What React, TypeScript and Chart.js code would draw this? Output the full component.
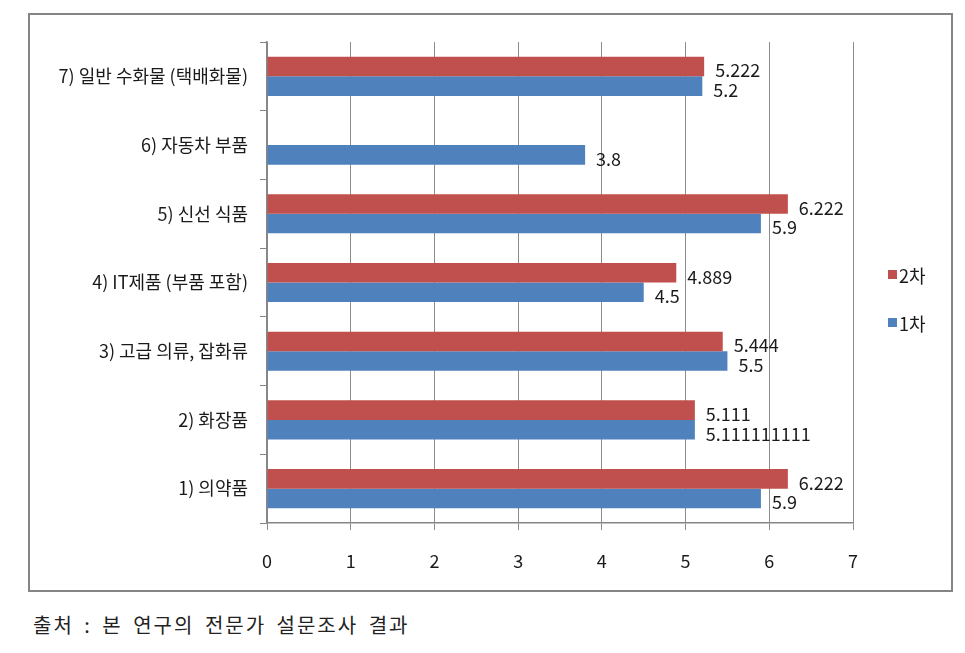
import React, { useEffect, useRef } from "react";
import { Chart, registerables } from "chart.js";

Chart.register(...registerables);

const categories = [
  "7) 일반 수화물 (택배화물)",
  "6) 자동차 부품",
  "5) 신선 식품",
  "4) IT제품 (부품 포함)",
  "3) 고급 의류, 잡화류",
  "2) 화장품",
  "1) 의약품",
];
const series2Name = "2차";
const series1Name = "1차";
const series2Values: (number | null)[] = [5.222, null, 6.222, 4.889, 5.444, 5.111, 6.222];
const series1Values: (number | null)[] = [5.2, 3.8, 5.9, 4.5, 5.5, 5.111111111, 5.9];
const xTicks = [0, 1, 2, 3, 4, 5, 6, 7];
const caption = "출처 : 본 연구의 전문가 설문조사 결과";

const RED = "#C0504D";
const BLUE = "#4F81BD";
const FONT = "'Noto Sans CJK KR', 'Noto Sans', sans-serif";

const valueLabels = {
  id: "valueLabels",
  afterDatasetsDraw(chart: any) {
    const ctx = chart.ctx;
    ctx.save();
    ctx.font = `18px ${FONT}`;
    ctx.fillStyle = "#1a1a1a";
    ctx.textAlign = "left";
    ctx.textBaseline = "middle";
    chart.data.datasets.forEach((ds: any, di: number) => {
      const meta = chart.getDatasetMeta(di);
      meta.data.forEach((el: any, i: number) => {
        const v = ds.data[i];
        if (v === null || v === undefined) return;
        ctx.fillText(String(v), el.x + 11, el.y + 4);
      });
    });
    ctx.restore();
  },
};

const customLegend = {
  id: "customLegend",
  afterDraw(chart: any) {
    const ctx = chart.ctx;
    const area = chart.chartArea;
    ctx.save();
    ctx.font = `18px ${FONT}`;
    ctx.textAlign = "left";
    ctx.textBaseline = "middle";
    const x0 = area.right + 35;
    const y0 = (area.top + area.bottom) / 2;
    const items = chart.data.datasets.map((ds: any) => ({ label: ds.label, color: ds.backgroundColor }));
    items.forEach((it: any, i: number) => {
      const cy = y0 - 8.5 + i * 48;
      ctx.fillStyle = it.color;
      ctx.fillRect(x0, cy - 4, 9, 9);
      ctx.fillStyle = "#1a1a1a";
      ctx.fillText(it.label, x0 + 11, cy + 2);
    });
    ctx.restore();
  },
};

export default function App() {
  const ref = useRef<HTMLCanvasElement | null>(null);

  useEffect(() => {
    if (!ref.current) return;
    const chart = new Chart(ref.current, {
      type: "bar",
      data: {
        labels: categories,
        datasets: [
          { label: series2Name, data: series2Values, backgroundColor: RED, borderWidth: 0 },
          { label: series1Name, data: series1Values, backgroundColor: BLUE, borderWidth: 0 },
        ],
      },
      options: {
        indexAxis: "y",
        responsive: false,
        animation: false,
        datasets: { bar: { categoryPercentage: 0.57, barPercentage: 1 } },
        layout: { padding: { top: 27, right: 97, left: 0, bottom: 0 } },
        plugins: { legend: { display: false }, tooltip: { enabled: false } },
        scales: {
          x: {
            min: 0,
            max: 7,
            afterBuildTicks(scale: any) {
              scale.ticks = xTicks.map((v) => ({ value: v }));
            },
            afterFit(scale: any) {
              scale.height = 66;
            },
            grid: { color: "#8c8c8c", lineWidth: 1, drawTicks: true, tickLength: 7, tickColor: "#8c8c8c" },
            border: { display: true, color: "#868686", width: 1.5 },
            ticks: { font: { size: 18, family: FONT }, color: "#1a1a1a", padding: 20 },
          },
          y: {
            afterFit(scale: any) {
              scale.width = 237;
            },
            grid: { display: true, drawOnChartArea: false, offset: true, tickLength: 7, tickColor: "#868686" },
            border: { display: true, color: "#868686", width: 1.5 },
            ticks: { font: { size: 18, family: FONT }, color: "#1a1a1a", padding: 12 },
          },
        },
      },
      plugins: [valueLabels, customLegend],
    });
    return () => chart.destroy();
  }, []);

  return (
    <div style={{ position: "relative", width: 949, height: 637 }}>
      <div
        style={{
          position: "absolute",
          left: 20,
          top: 5,
          width: 925,
          height: 579,
          boxSizing: "border-box",
          border: "2px solid #858585",
        }}
      />
      <canvas
        ref={ref}
        width={920}
        height={574}
        style={{ position: "absolute", left: 22, top: 7, width: 920, height: 574 }}
      />
      <div
        style={{
          position: "absolute",
          left: 25,
          top: 602,
          fontFamily: FONT,
          fontSize: 20,
          letterSpacing: 2,
          wordSpacing: 4,
          color: "#222",
          whiteSpace: "nowrap",
        }}
      >
        {caption}
      </div>
    </div>
  );
}
